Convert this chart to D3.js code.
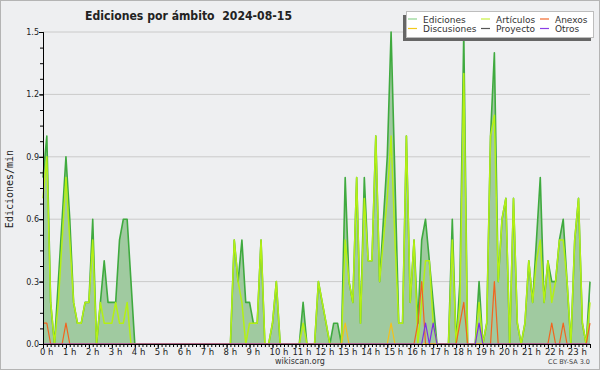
<!DOCTYPE html>
<html>
<head>
<meta charset="utf-8">
<script src="https://cdn.jsdelivr.net/npm/d3@7"></script>
<style>
  html, body { margin: 0; padding: 0; background: #eeeff1; }
  svg { display: block; }
  text { font-family: "DejaVu Sans", sans-serif; fill: #222; }
</style>
</head>
<body>
<svg id="chart" width="600" height="370"></svg>
<script>
// edits per minute, one value every 10 minutes (6 per hour, 0h .. 23h50)
const ediciones = [
  0.8, 1.0, 0.2, 0, 0.3, 0.6,   0.9, 0.6, 0.2, 0.1, 0.1, 0.2,
  0.2, 0.6, 0, 0.2, 0.4, 0.2,   0.2, 0.2, 0.5, 0.6, 0.6, 0.3,
  0, 0, 0, 0, 0, 0,             0, 0, 0, 0, 0, 0,
  0, 0, 0, 0, 0, 0,             0, 0, 0, 0, 0, 0,
  0, 0, 0.5, 0.3, 0.5, 0.2,     0.2, 0.1, 0.1, 0.5, 0, 0,
  0.1, 0.3, 0, 0, 0, 0,         0, 0, 0.2, 0, 0, 0,
  0.3, 0.2, 0.1, 0, 0.1, 0.1,   0, 0.8, 0.3, 0.2, 0.8, 0.1,
  0.8, 0.4, 0.4, 1.0, 0.3, 0.6, 0.9, 1.5, 0.8, 0.1, 0.1, 1.0,
  0.2, 0.5, 0.1, 0.5, 0.6, 0.4, 0.2, 0, 0, 0, 0, 0.6,
  0, 0.3, 1.5, 0, 0, 0,         0.3, 0, 0.1, 1.0, 1.4, 0.3,
  0.6, 0.7, 0, 0.7, 0.1, 0,     0.1, 0.4, 0.2, 0.5, 0.8, 0.2,
  0.4, 0.3, 0.3, 0.5, 0.6, 0.3, 0, 0.5, 0.7, 0.1, 0, 0.3
];
const articulos = [
  0.7, 0.9, 0.2, 0, 0.2, 0.5,   0.8, 0.5, 0.2, 0.1, 0.1, 0.2,
  0.2, 0.5, 0, 0.2, 0.1, 0.1,   0.1, 0.2, 0.1, 0.1, 0.2, 0,
  0, 0, 0, 0, 0, 0,             0, 0, 0, 0, 0, 0,
  0, 0, 0, 0, 0, 0,             0, 0, 0, 0, 0, 0,
  0, 0, 0.5, 0.3, 0.2, 0,       0.1, 0.1, 0.1, 0.5, 0, 0,
  0.1, 0.3, 0, 0, 0, 0,         0, 0, 0.1, 0, 0, 0,
  0.3, 0.2, 0.1, 0, 0, 0,       0, 0.5, 0.3, 0.2, 0.8, 0.1,
  0.7, 0.4, 0.4, 1.0, 0.3, 0.5, 0.7, 1.0, 0.5, 0.1, 0.1, 1.0,
  0.2, 0.5, 0, 0.2, 0.4, 0.4,   0.1, 0, 0, 0, 0, 0.5,
  0, 0.2, 1.3, 0, 0, 0,         0.2, 0, 0.1, 1.0, 1.1, 0.3,
  0.6, 0.7, 0, 0.7, 0.1, 0,     0.1, 0.4, 0.2, 0.4, 0.5, 0.2,
  0.4, 0.2, 0.3, 0.5, 0.5, 0.3, 0, 0.5, 0.7, 0.1, 0, 0.2
];
const anexos = [
  0.1, 0.1, 0, 0, 0, 0,   0.1, 0, 0, 0, 0, 0,
  0, 0, 0, 0, 0, 0,       0, 0, 0, 0, 0, 0,
  0, 0, 0, 0, 0, 0,       0, 0, 0, 0, 0, 0,
  0, 0, 0, 0, 0, 0,       0, 0, 0, 0, 0, 0,
  0, 0, 0, 0, 0, 0,       0, 0, 0, 0, 0, 0,
  0, 0, 0, 0, 0, 0,       0, 0, 0, 0, 0, 0,
  0, 0, 0, 0, 0, 0,       0, 0, 0, 0, 0, 0,
  0, 0, 0, 0, 0, 0,       0, 0, 0, 0, 0, 0,
  0, 0, 0.1, 0.3, 0, 0,   0, 0, 0, 0, 0, 0,
  0, 0.1, 0.2, 0, 0, 0,   0, 0, 0, 0, 0.3, 0,
  0, 0, 0, 0, 0, 0,       0, 0, 0, 0, 0, 0,
  0, 0.1, 0, 0, 0.1, 0,   0, 0, 0, 0, 0, 0.1
];
const discusiones = [
  0, 0, 0, 0, 0, 0,   0, 0, 0, 0, 0, 0,
  0, 0, 0, 0, 0, 0,   0, 0, 0, 0, 0, 0,
  0, 0, 0, 0, 0, 0,   0, 0, 0, 0, 0, 0,
  0, 0, 0, 0, 0, 0,   0, 0, 0, 0, 0, 0,
  0, 0, 0, 0, 0, 0,   0, 0, 0, 0, 0, 0,
  0, 0, 0, 0, 0, 0,   0, 0, 0, 0, 0, 0,
  0, 0, 0, 0, 0, 0,   0, 0.1, 0, 0, 0, 0,
  0, 0, 0, 0, 0, 0,   0, 0.1, 0, 0, 0, 0,
  0, 0, 0, 0, 0, 0,   0, 0, 0, 0, 0, 0,
  0, 0, 0, 0, 0, 0,   0, 0, 0, 0, 0, 0,
  0, 0, 0, 0, 0, 0,   0, 0, 0, 0, 0, 0,
  0, 0, 0, 0, 0, 0,   0, 0, 0, 0, 0, 0
];
const otros = [
  0, 0, 0, 0, 0, 0,     0, 0, 0, 0, 0, 0,
  0, 0, 0, 0, 0, 0,     0, 0, 0, 0, 0, 0,
  0, 0, 0, 0, 0, 0,     0, 0, 0, 0, 0, 0,
  0, 0, 0, 0, 0, 0,     0, 0, 0, 0, 0, 0,
  0, 0, 0, 0, 0, 0,     0, 0, 0, 0, 0, 0,
  0, 0, 0, 0, 0, 0,     0, 0, 0, 0, 0, 0,
  0, 0, 0, 0, 0, 0,     0, 0, 0, 0, 0, 0,
  0, 0, 0, 0, 0, 0,     0, 0, 0, 0, 0, 0,
  0, 0, 0, 0, 0.1, 0,   0.1, 0, 0, 0, 0, 0,
  0, 0, 0, 0, 0, 0,     0.1, 0, 0, 0, 0, 0,
  0, 0, 0, 0, 0, 0,     0, 0, 0, 0, 0, 0,
  0, 0, 0, 0, 0, 0,     0, 0, 0, 0, 0, 0
];

const hours = d3.range(0, 24);
const yTicks = [0, 0.3, 0.6, 0.9, 1.2, 1.5];
const legendItems = [
  {name: "Ediciones", color: "#8fd48f"},
  {name: "Discusiones", color: "#f2c91c"},
  {name: "Artículos", color: "#c6f040"},
  {name: "Proyecto", color: "#555555"},
  {name: "Anexos", color: "#f26a2e"},
  {name: "Otros", color: "#8a3ee6"}
];

const svg = d3.select("#chart");
const plotLeft = 43, plotRight = 590, plotTop = 32, plotBottom = 344;

svg.append("rect")
  .attr("x", 0.5).attr("y", 0.5).attr("width", 599).attr("height", 369)
  .attr("fill", "#eeeff1").attr("stroke", "#b4b4b4");

const x = d3.scaleLinear().domain([0, ediciones.length - 1]).range([plotLeft, plotRight]);
const y = d3.scaleLinear().domain([0, 1.5]).range([plotBottom, plotTop]);

// grid
svg.append("g").selectAll("line")
  .data(yTicks.filter(d => d > 0))
  .enter().append("line")
  .attr("x1", plotLeft).attr("x2", plotRight)
  .attr("y1", d => y(d)).attr("y2", d => y(d))
  .attr("stroke", "#cacaca").attr("stroke-width", 1);

// area + lines
svg.append("path")
  .datum(ediciones)
  .attr("d", d3.area().x((d, i) => x(i)).y0(y(0)).y1(d => y(d)))
  .attr("fill", "#a0caa0");

const line = d3.line().x((d, i) => x(i)).y(d => y(d));
const series = [
  {data: ediciones, color: "#3faa3f", w: 1.6},
  {data: articulos, color: "#b4f014", w: 1.5},
  {data: discusiones, color: "#f2c21c", w: 1.2},
  {data: anexos, color: "#f2641e", w: 1.2},
  {data: otros, color: "#7d2ee6", w: 1.2}
];
series.forEach(function(s) {
  svg.append("path")
    .datum(s.data)
    .attr("d", line)
    .attr("fill", "none")
    .attr("stroke", s.color)
    .attr("stroke-width", s.w)
    .attr("stroke-linejoin", "round");
});

// x axis: small tick every 10 minutes, labels on the hours
const xMinor = svg.append("g")
  .attr("transform", "translate(0," + plotBottom + ")")
  .call(d3.axisBottom(x).tickValues(d3.range(0, ediciones.length)).tickSize(3).tickFormat(""));
const xAxis = svg.append("g")
  .attr("transform", "translate(0," + plotBottom + ")")
  .call(d3.axisBottom(x).tickValues(hours.map(h => h * 6)).tickSize(4).tickFormat(d => (d / 6) + " h"));
xAxis.selectAll("text")
  .attr("text-anchor", "start")
  .attr("dx", -3.5)
  .attr("y", 5)
  .style("font-size", "8.5px")
  .style("font-family", "DejaVu Sans");
[xMinor, xAxis].forEach(function(g) {
  g.select(".domain").attr("stroke", "#000");
  g.selectAll(".tick line").attr("stroke", "#000");
});

// y axis
const yMinor = svg.append("g")
  .attr("transform", "translate(" + plotLeft + ",0)")
  .call(d3.axisLeft(y).tickValues(d3.range(0, 1.5001, 0.075)).tickSize(3).tickFormat(""));
const yAxis = svg.append("g")
  .attr("transform", "translate(" + plotLeft + ",0)")
  .call(d3.axisLeft(y).tickValues(yTicks).tickSize(4).tickFormat(d3.format(".1f")));
yAxis.selectAll("text")
  .attr("x", -4)
  .style("font-size", "8px")
  .style("font-family", "DejaVu Sans");
[yMinor, yAxis].forEach(function(g) {
  g.select(".domain").attr("stroke", "#000");
  g.selectAll(".tick line").attr("stroke", "#000");
});

svg.append("text")
  .attr("transform", "translate(13,189) rotate(-90)")
  .attr("text-anchor", "middle")
  .style("font-family", "DejaVu Sans Mono")
  .style("font-size", "10px")
  .text("Ediciones/min");

// title
svg.append("text")
  .attr("x", 85).attr("y", 20)
  .attr("textLength", 207).attr("lengthAdjust", "spacingAndGlyphs")
  .style("font-size", "13px").style("font-weight", "bold")
  .style("white-space", "pre")
  .text("Ediciones por ámbito  2024-08-15");

// legend
const lg = svg.append("g");
lg.append("rect").attr("x", 403).attr("y", 15).attr("width", 188).attr("height", 26).attr("fill", "#666");
lg.append("rect").attr("x", 406.5).attr("y", 11.5).attr("width", 187).attr("height", 26)
  .attr("fill", "#fff").attr("stroke", "#bdbdbd");
const colX = [408, 481, 540];
lg.selectAll("g.item")
  .data(legendItems)
  .enter().append("g")
  .attr("class", "item")
  .each(function(d, i) {
    const g = d3.select(this);
    const cx = colX[Math.floor(i / 2)];
    const cy = i % 2 == 0 ? 22.5 : 32;
    g.append("line")
      .attr("x1", cx).attr("x2", cx + 9)
      .attr("y1", cy - 3.5).attr("y2", cy - 3.5)
      .attr("stroke", d.color).attr("stroke-width", 1.2);
    g.append("text")
      .attr("x", cx + 15).attr("y", cy)
      .style("font-size", "9px")
      .style("fill", "#333")
      .text(d.name);
  });

// footer
svg.append("text")
  .attr("x", 300).attr("y", 364)
  .attr("text-anchor", "middle")
  .style("font-size", "8px").style("fill", "#333")
  .text("wikiscan.org");
svg.append("text")
  .attr("x", 590).attr("y", 364)
  .attr("text-anchor", "end")
  .style("font-size", "6.5px").style("fill", "#444")
  .text("CC BY-SA 3.0");
</script>
</body>
</html>
